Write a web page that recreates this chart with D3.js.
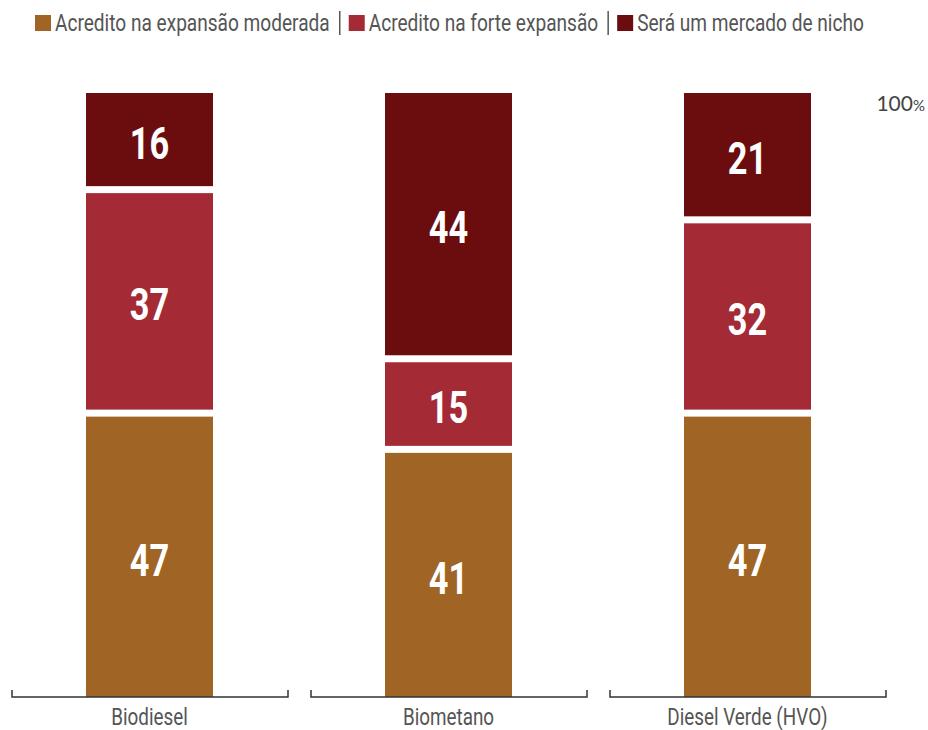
<!DOCTYPE html>
<html><head><meta charset="utf-8">
<script src="https://cdn.jsdelivr.net/npm/d3@7"></script>
<style>body{margin:0;background:#fff}svg{display:block}</style>
</head><body><svg id="c" width="928" height="730"></svg>
<script>
const categories = ["Biodiesel", "Biometano", "Diesel Verde (HVO)"];
const seriesNames = ["Acredito na expansão moderada", "Acredito na forte expansão", "Será um mercado de nicho"];
const moderada = [47, 41, 47];
const forte = [37, 15, 32];
const nicho = [16, 44, 21];
const colors = ["#A06424", "#A42A35", "#6B0D0E"];
const topLabel = "100";

const font = "Roboto, 'Noto Sans', sans-serif";
const svg = d3.select("#c");
const rows = categories.map((c, i) => ({cat: c, s0: moderada[i], s1: forte[i], s2: nicho[i]}));
const stack = d3.stack().keys(["s0", "s1", "s2"])(rows);

const x = d3.scaleBand().domain(categories).range([0, 897]).paddingInner(0).paddingOuter(0);
const barW = 127;
const y = d3.scaleLinear().domain([0, 100]).range([697, 93]);
const gap = 3.5;

function condText(parent, tx, ty, str, size, opts) {
  const sx = opts.sx || 0.8;
  const g = parent.append("g").attr("transform", `translate(${tx},${ty}) scale(${sx},1)`);
  const t = g.append("text").attr("x", 0).attr("y", 0)
    .attr("text-anchor", opts.anchor || "start").attr("fill", opts.fill || "#555")
    .attr("font-family", font).attr("font-size", size)
    .attr("font-weight", opts.weight || "normal").text(str);
  return {g, t, w: t.node().getComputedTextLength() * sx};
}

stack.forEach((layer, k) => {
  const g = svg.append("g");
  layer.forEach((d, i) => {
    const cx = x(categories[i]) + x.bandwidth() / 2;
    const yTop = y(d[1]) + (d[1] < 100 ? gap : 0);
    const yBot = y(d[0]) - (d[0] > 0 ? gap : 0);
    g.append("rect").attr("x", cx - barW / 2).attr("width", barW)
      .attr("y", yTop).attr("height", yBot - yTop).attr("fill", colors[k]);
    condText(g, cx, (yTop + yBot) / 2 + 19, d[1] - d[0], 44,
      {anchor: "middle", fill: "#fff", weight: "bold", sx: 0.78});
  });
});

categories.forEach(c => {
  const x0 = x(c) + 12, x1 = x(c) + x.bandwidth() - 11;
  svg.append("path").attr("d", `M${x0},690V697H${x1}V690`).attr("fill", "none")
    .attr("stroke", "#333").attr("stroke-width", 1.5);
  condText(svg, x(c) + x.bandwidth() / 2, 725, c, 23, {anchor: "middle", fill: "#555", sx: 0.82});
});

const t = svg.append("text").attr("x", 925).attr("y", 111).attr("text-anchor", "end")
  .attr("fill", "#444").attr("font-family", "Lato, sans-serif").attr("font-size", 21);
t.append("tspan").text(topLabel);
t.append("tspan").attr("font-size", 15).text("%");

let lx = 35;
const lg = svg.append("g");
seriesNames.forEach((n, i) => {
  if (i > 0) {
    lg.append("line").attr("x1", lx + 3).attr("x2", lx + 3).attr("y1", 11).attr("y2", 35)
      .attr("stroke", "#555").attr("stroke-width", 1.5);
    lx += 12;
  }
  lg.append("rect").attr("x", lx).attr("y", 15).attr("width", 16).attr("height", 16).attr("fill", colors[i]);
  lx += 20;
  const r = condText(lg, lx, 31, n, 23, {fill: "#555", sx: 0.83});
  lx += r.w + 7;
});
</script></body></html>
